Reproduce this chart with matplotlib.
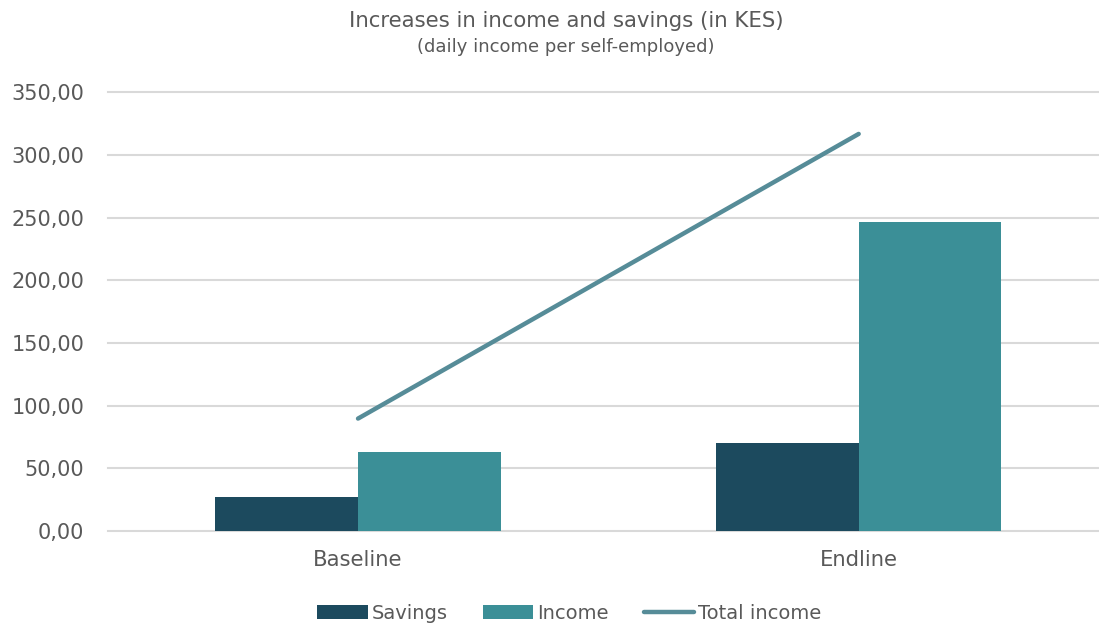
import numpy as np
import matplotlib.pyplot as plt
from matplotlib.ticker import FuncFormatter

categories = ['Baseline', 'Endline']
savings = [26.9, 70.5]
income = [62.8, 246.3]
total_income = [89.7, 316.8]

c_sav = '#1c4a5e'
c_inc = '#3b8f97'
c_tot = '#568c98'
grey = '#595959'

fig = plt.figure(figsize=(10.99, 6.27), dpi=100)
ax = fig.add_axes([0.098, 0.1531, 0.902, 0.6997])

x = np.arange(len(categories))
w = 0.285
b1 = ax.bar(x - w / 2, savings, w, color=c_sav, label='Savings', zorder=2)
b2 = ax.bar(x + w / 2, income, w, color=c_inc, label='Income', zorder=2)
l1, = ax.plot(x, total_income, color=c_tot, lw=3.2, solid_capstyle='round', label='Total income', zorder=3)

ax.set_xlim(-0.5, 1.48)
ax.set_ylim(0, 350)
ax.set_yticks(np.arange(0, 351, 50))
ax.yaxis.set_major_formatter(FuncFormatter(lambda v, p: f'{v:.2f}'.replace('.', ',')))
ax.set_xticks(x)
ax.set_xticklabels(categories)
ax.tick_params(axis='x', length=0, labelsize=15.2, colors=grey, pad=14)
ax.tick_params(axis='y', length=0, labelsize=15, colors=grey, pad=17)
ax.grid(axis='y', color='#d9d9d9', lw=1.5, zorder=0)
for gl in ax.get_ygridlines():
    gl.set_clip_on(False)
for s in ax.spines.values():
    s.set_visible(False)

fig.text(0.515, 0.967, 'Increases in income and savings (in KES)', ha='center', va='center', fontsize=15.3, color=grey)
fig.text(0.515, 0.925, '(daily income per self-employed)', ha='center', va='center', fontsize=13, color=grey)

leg = fig.legend([b1, b2, l1], ['Savings', 'Income', 'Total income'], loc='center',
                 bbox_to_anchor=(0.518, 0.022), ncol=3, frameon=False,
                 fontsize=14, handlelength=2.6, handleheight=0.75, handletextpad=0.2, columnspacing=1.8)
for t in leg.get_texts():
    t.set_color(grey)

fig.savefig('out.png', dpi=100)
